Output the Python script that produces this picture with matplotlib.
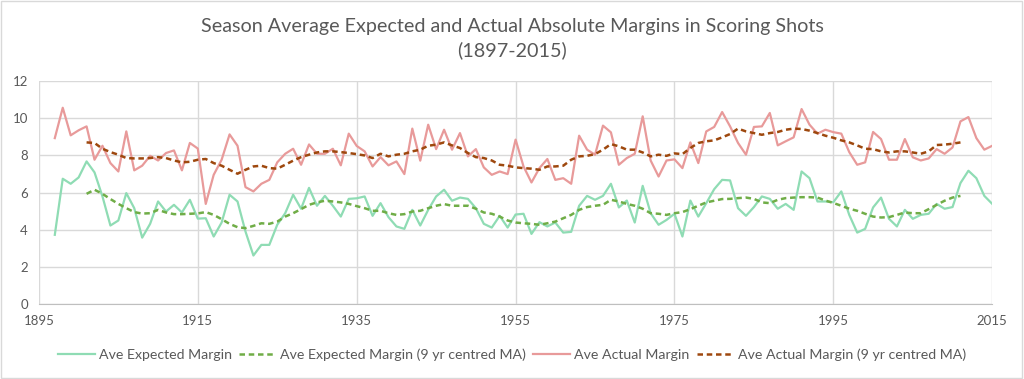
import matplotlib.pyplot as plt
from matplotlib.patches import Rectangle
import numpy as np

years = list(range(1897, 2016))
ma_years = list(range(1901, 2012))

expected = [3.73, 6.74, 6.47, 6.81, 7.67, 7.08, 5.79, 4.23, 4.50, 5.97,
            5.16, 3.58, 4.32, 5.52, 4.98, 5.34, 4.93, 5.61, 4.60,
            4.62, 3.64, 4.39, 5.88, 5.52, 3.91, 2.62, 3.19, 3.19, 4.27,
            4.89, 5.88, 5.13, 6.25, 5.29, 5.82, 5.29, 4.71, 5.66, 5.69,
            5.79, 4.75, 5.43, 4.68, 4.18, 4.05, 5.07, 4.23, 5.07, 5.79,
            6.15, 5.56, 5.73, 5.66, 5.16, 4.32, 4.12, 4.75, 4.12, 4.82,
            4.86, 3.78, 4.41, 4.18, 4.39, 3.85, 3.89, 5.29, 5.82, 5.61,
            5.82, 6.47, 5.20, 5.57, 4.39, 6.36, 4.89, 4.27, 4.53, 4.86,
            3.64, 5.57, 4.71, 5.43, 6.18, 6.68, 6.65, 5.16, 4.75, 5.22,
            5.79, 5.66, 5.13, 5.39, 5.07, 7.13, 6.77, 5.52, 5.52, 5.48,
            6.06, 4.80, 3.85, 4.05, 5.20, 5.73, 4.59, 4.18, 5.07, 4.59,
            4.80, 4.86, 5.39, 5.13, 5.22, 6.51, 7.17, 6.77, 5.82, 5.39]

expected_ma = [5.93, 6.15, 5.93, 5.65, 5.39, 5.16, 4.95, 4.87, 4.89, 5.07,
               4.93, 4.84, 4.84, 4.86, 4.88, 4.95, 4.80, 4.57, 4.32, 4.14,
               4.09, 4.21, 4.35, 4.32, 4.44, 4.71, 4.89, 5.11, 5.34, 5.47,
               5.56, 5.52, 5.47, 5.39, 5.27, 5.16, 5.02, 5.02, 4.89, 4.80,
               4.84, 4.98, 5.02, 5.16, 5.29, 5.38, 5.29, 5.29, 5.29, 5.13,
               4.93, 4.86, 4.71, 4.50, 4.39, 4.35, 4.32, 4.27, 4.35, 4.44,
               4.62, 4.80, 5.07, 5.22, 5.29, 5.34, 5.61, 5.52, 5.39, 5.29,
               5.13, 4.89, 4.86, 4.80, 4.89, 4.95, 5.11, 5.29, 5.47, 5.56,
               5.65, 5.66, 5.70, 5.73, 5.66, 5.47, 5.43, 5.61, 5.70, 5.73,
               5.75, 5.75, 5.73, 5.57, 5.44, 5.29, 5.13, 5.02, 4.86, 4.71,
               4.66, 4.68, 4.80, 4.93, 4.89, 4.89, 5.11, 5.34, 5.56, 5.73,
               5.82]

actual = [8.92, 10.55, 9.07, 9.34, 9.55, 7.76, 8.51, 7.58, 7.13, 9.28,
          7.19, 7.44, 7.97, 7.72, 8.12, 8.26, 7.19, 8.66, 8.36,
          5.39, 6.95, 7.76, 9.12, 8.51, 6.29, 6.06, 6.47, 6.68, 7.62,
          8.08, 8.35, 7.49, 8.58, 8.08, 8.08, 8.35, 7.46, 9.16, 8.50,
          8.21, 7.40, 7.90, 7.46, 7.67, 6.99, 9.43, 7.71, 9.64, 8.33,
          9.37, 8.30, 9.19, 7.94, 8.33, 7.35, 6.95, 7.13, 6.99, 8.84,
          7.40, 6.54, 7.31, 7.80, 6.68, 6.77, 6.47, 9.05, 8.30, 8.03,
          9.59, 9.23, 7.49, 7.85, 8.08, 10.09, 7.72, 6.86, 7.72, 7.78,
          7.31, 8.69, 7.58, 9.28, 9.52, 10.32, 9.55, 8.66, 8.03, 9.52,
          9.55, 10.27, 8.53, 8.75, 8.96, 10.48, 9.64, 9.16, 9.37, 9.24,
          9.16, 8.17, 7.49, 7.62, 9.25, 8.87, 7.76, 7.76, 8.87, 7.89,
          7.72, 7.83, 8.33, 8.08, 8.42, 9.82, 10.05, 8.92, 8.30, 8.51]

actual_ma = [8.69, 8.66, 8.35, 8.17, 8.03, 7.85, 7.83, 7.83, 7.85, 7.90,
             7.85, 7.72, 7.62, 7.65, 7.76, 7.80, 7.58, 7.44, 7.22, 7.01,
             7.22, 7.40, 7.44, 7.31, 7.28, 7.49, 7.71, 7.90, 8.03, 8.15,
             8.21, 8.21, 8.17, 8.12, 8.06, 7.99, 7.85, 8.08, 7.94, 8.03,
             8.08, 8.21, 8.30, 8.51, 8.57, 8.69, 8.53, 8.39, 8.12, 7.90,
             7.85, 7.72, 7.49, 7.44, 7.35, 7.31, 7.28, 7.22, 7.40, 7.40,
             7.44, 7.76, 7.94, 7.97, 8.06, 8.30, 8.60, 8.48, 8.30, 8.30,
             8.15, 7.94, 8.03, 7.97, 8.10, 8.06, 8.39, 8.66, 8.75, 8.80,
             8.96, 9.14, 9.43, 9.28, 9.19, 9.10, 9.19, 9.25, 9.37, 9.43,
             9.41, 9.32, 9.19, 9.05, 8.94, 8.80, 8.69, 8.53, 8.35, 8.33,
             8.21, 8.15, 8.21, 8.21, 8.15, 8.08, 8.21, 8.55, 8.57, 8.62,
             8.69]

xticks = [1895, 1915, 1935, 1955, 1975, 1995, 2015]
yticks = [0, 2, 4, 6, 8, 10, 12]

grey = '#595959'
plt.rcParams['font.family'] = ['Lato', 'DejaVu Sans']

fig = plt.figure(figsize=(10.24, 3.79), dpi=100)
ax = fig.add_axes([0.038, 0.197, 0.931, 0.590])

ax.plot(years, expected, color='#8fdcb4', lw=1.6, label='Ave Expected Margin')
ax.plot(ma_years, expected_ma, color='#70ad47', lw=1.8, ls=(0, (2.2, 1.5)),
        label='Ave Expected Margin (9 yr centred MA)')
ax.plot(years, actual, color='#e89a9a', lw=1.6, label='Ave Actual Margin')
ax.plot(ma_years, actual_ma, color='#9e480e', lw=1.8, ls=(0, (2.2, 1.5)),
        label='Ave Actual Margin (9 yr centred MA)')

ax.set_xlim(1895, 2015)
ax.set_ylim(0, 12)
ax.set_xticks(xticks)
ax.set_yticks(yticks)
ax.tick_params(length=0, colors=grey, labelsize=9.5, pad=8)
ax.grid(True, color='#d9d9d9', lw=1)
ax.set_axisbelow(True)
for s in ['top', 'right', 'left']:
    ax.spines[s].set_visible(False)
ax.spines['bottom'].set_color('#bfbfbf')

fig.text(0.5, 0.93, 'Season Average Expected and Actual Absolute Margins in Scoring Shots',
         ha='center', va='center', fontsize=14.2, color=grey)
fig.text(0.5, 0.868, '(1897-2015)', ha='center', va='center', fontsize=14.2,
         color=grey)

fig.legend(loc='center', bbox_to_anchor=(0.5, 0.063), ncol=4, frameon=False,
           fontsize=10.2, handlelength=2.6, columnspacing=0.5, handletextpad=0.3,
           labelcolor=grey)

fig.patches.append(Rectangle((0.001, 0.002), 0.997, 0.995, transform=fig.transFigure,
                             fill=False, edgecolor='#d9d9d9', lw=1))

fig.savefig('out.png', dpi=100)
